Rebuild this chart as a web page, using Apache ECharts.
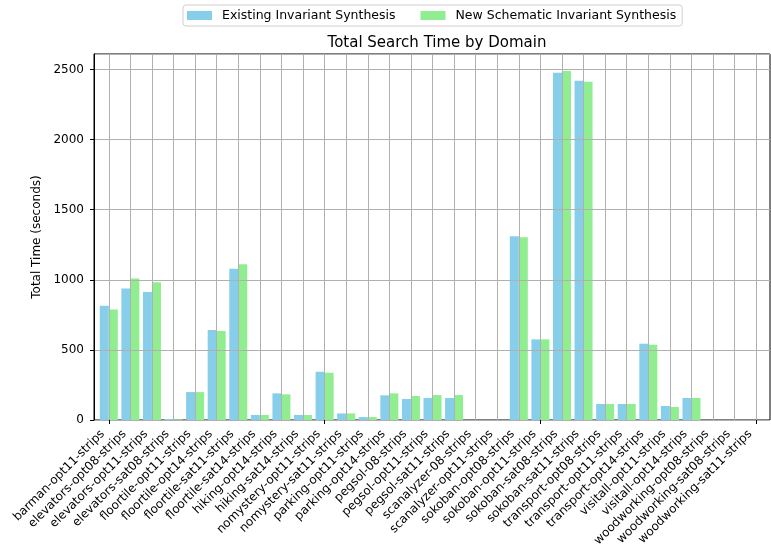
<!DOCTYPE html>
<html>
<head>
<meta charset="utf-8">
<script src="https://cdn.jsdelivr.net/npm/echarts@6/dist/echarts.min.js"></script>
<style>
  html, body { margin: 0; padding: 0; background: #fff; }
  #chart { width: 771px; height: 552px; }
</style>
</head>
<body>
<div id="chart"></div>
<script>
const domains = [
  'barman-opt11-strips', 'elevators-opt08-strips', 'elevators-opt11-strips', 'elevators-sat08-strips',
  'floortile-opt11-strips', 'floortile-opt14-strips', 'floortile-sat11-strips', 'floortile-sat14-strips',
  'hiking-opt14-strips', 'hiking-sat14-strips', 'nomystery-opt11-strips', 'nomystery-sat11-strips',
  'parking-opt11-strips', 'parking-opt14-strips', 'pegsol-08-strips', 'pegsol-opt11-strips',
  'pegsol-sat11-strips', 'scanalyzer-08-strips', 'scanalyzer-opt11-strips', 'sokoban-opt08-strips',
  'sokoban-opt11-strips', 'sokoban-sat08-strips', 'sokoban-sat11-strips', 'transport-opt08-strips',
  'transport-opt11-strips', 'transport-opt14-strips', 'visitall-opt11-strips', 'visitall-opt14-strips',
  'woodworking-opt08-strips', 'woodworking-sat08-strips', 'woodworking-sat11-strips'
];

const existingTimes = [
  814, 938, 912, 7, 199, 641, 1078, 36, 190, 36, 344, 47, 21, 176, 150, 157,
  157, 0, 0, 1311, 575, 2476, 2419, 114, 114, 544, 100, 157, 0, 0, 0
];

const schematicTimes = [
  788, 1009, 983, 5, 199, 634, 1111, 36, 183, 36, 337, 47, 21, 190, 171, 178,
  178, 0, 0, 1303, 575, 2488, 2412, 114, 114, 537, 93, 157, 0, 0, 0
];

const yTicks = [0, 500, 1000, 1500, 2000, 2500];
const yMax = 2610;

const font = 'DejaVu Sans';
const gridColor = '#b0b0b0';

// bars live in a band grid slightly inside the frame (matplotlib-style margins);
// ticks and vertical grid lines sit on an axis running through the band centres,
// and the rotated labels use a copy of it nudged left (right-aligned like matplotlib)
const bandLeft = 98, bandWidth = 669;
const band = bandWidth / domains.length;
const labelShift = 6;

const chart = echarts.init(document.getElementById('chart'));

chart.setOption({
  animation: false,
  textStyle: { fontFamily: font },
  title: {
    text: 'Total Search Time by Domain',
    left: 432, top: 31, textAlign: 'center',
    textStyle: { fontFamily: font, fontSize: 15, fontWeight: 'normal', color: '#000' }
  },
  legend: {
    left: 183, top: 5,
    itemWidth: 25, itemHeight: 9, itemGap: 25,
    padding: [4, 6, 4, 4],
    borderColor: '#d0d0d0', borderWidth: 1, borderRadius: 3,
    icon: 'rect',
    textStyle: { fontFamily: font, fontSize: 12.5, color: '#000', padding: [0, 0, 0, 5] }
  },
  grid: [
    { left: 94, top: 54, width: 676, height: 366, show: true, borderColor: '#000', borderWidth: 1 },
    { left: bandLeft, top: 54, width: bandWidth, height: 366 },
    { left: bandLeft + band / 2, top: 54, width: bandWidth - band, height: 366 },
    { left: bandLeft + band / 2 - labelShift, top: 54, width: bandWidth - band, height: 366 }
  ],
  xAxis: [
    { gridIndex: 0, type: 'value', show: false, min: 0, max: 1 },
    { gridIndex: 1, type: 'category', data: domains, show: false },
    {
      gridIndex: 2, type: 'category', data: domains, boundaryGap: false, z: 3,
      axisLine: { show: false },
      axisTick: { show: true, length: 4, lineStyle: { color: '#000' } },
      axisLabel: { show: false },
      splitLine: { show: true, interval: 0, lineStyle: { color: gridColor, width: 1 } }
    },
    {
      gridIndex: 3, type: 'category', data: domains, boundaryGap: false,
      axisLine: { show: false },
      axisTick: { show: false },
      axisLabel: {
        interval: 0, rotate: 45, fontSize: 12, color: '#000', margin: 12, fontFamily: font
      },
      splitLine: { show: false }
    }
  ],
  yAxis: [
    {
      gridIndex: 0, type: 'value', min: 0, max: yMax, interval: 500, z: 3,
      name: 'Total Time (seconds)', nameLocation: 'middle', nameGap: 39,
      nameTextStyle: { fontFamily: font, fontSize: 12, color: '#000' },
      axisLine: { show: true, lineStyle: { color: '#000' } },
      axisTick: { show: true, length: 4, lineStyle: { color: '#000' } },
      axisLabel: {
        fontSize: 12, color: '#000', margin: 10, showMaxLabel: false,
        formatter: v => (yTicks.includes(v) ? String(v) : '')
      },
      splitLine: { show: true, lineStyle: { color: gridColor, width: 1 } }
    },
    { gridIndex: 1, type: 'value', min: 0, max: yMax, show: false },
    { gridIndex: 2, type: 'value', min: 0, max: yMax, show: false },
    { gridIndex: 3, type: 'value', min: 0, max: yMax, show: false }
  ],
  series: [
    {
      name: 'Existing Invariant Synthesis', type: 'bar',
      xAxisIndex: 1, yAxisIndex: 1,
      data: existingTimes, barWidth: 9, barGap: '0%',
      itemStyle: { color: '#87CEEB' }
    },
    {
      name: 'New Schematic Invariant Synthesis', type: 'bar',
      xAxisIndex: 1, yAxisIndex: 1,
      data: schematicTimes, barWidth: 9, barGap: '0%',
      itemStyle: { color: '#90EE90' }
    }
  ]
});
</script>
</body>
</html>
